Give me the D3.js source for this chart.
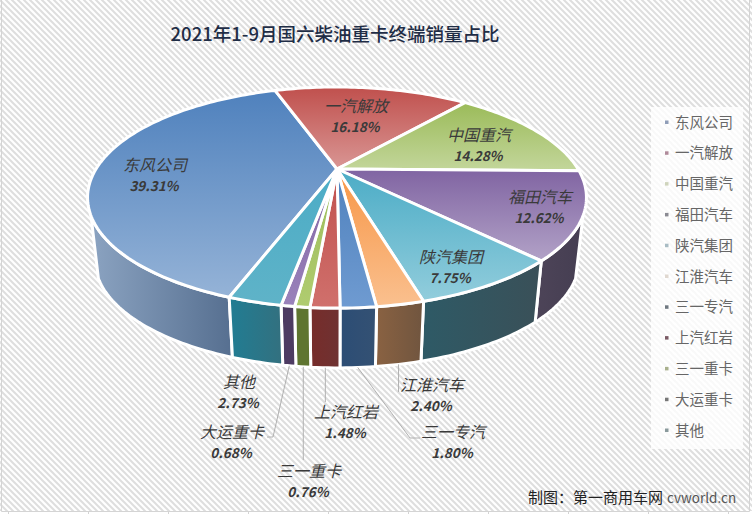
<!DOCTYPE html>
<html>
<head>
<meta charset="utf-8">
<script src="https://d3js.org/d3.v7.min.js"></script>
<style>
  html, body { margin: 0; padding: 0; background: #fff; }
  svg { display: block; }
  text { font-family: "Noto Sans CJK SC", "Liberation Sans", sans-serif; }
</style>
</head>
<body>
<div id="chart"></div>
<script>
var title = "2021年1-9月国六柴油重卡终端销量占比";
var creditCn = "制图：第一商用车网";
var creditEn = "cvworld.cn";
var brands = ["东风公司", "一汽解放", "中国重汽", "福田汽车", "陕汽集团", "江淮汽车", "三一专汽", "上汽红岩", "三一重卡", "大运重卡", "其他"];
var shares = [39.31, 16.18, 14.28, 12.62, 7.75, 2.40, 1.80, 1.48, 0.76, 0.68, 2.73];
var topColors = ["#4f81bd", "#c0504d", "#9bbb59", "#8064a2", "#4bacc6", "#f79646", "#4f81bd", "#c0504d", "#9bbb59", "#8064a2", "#4bacc6"];
var topLight = ["#95b3d7", "#d99694", "#c3d69b", "#b2a2c7", "#92cddc", "#fac08f", "#6f9bd1", "#d0706c", "#b0cc70", "#9a82bb", "#5fb3c8"];
var wallLight = ["#8ba3c1", "#8a3a38", "#6f8a38", "#4d4458", "#2e5a66", "#8a6242", "#2c4d75", "#772c2a", "#5f7530", "#4d3b62", "#217d93"];
var wallDark = ["#566f90", "#702f2d", "#5f7530", "#453e52", "#3a5058", "#70553f", "#345173", "#6e3232", "#5f7530", "#4d3b62", "#33707f"];
var legendColors = ["#8f9db8", "#b08a9a", "#cfd4bc", "#8a8a92", "#a9bcc4", "#e0d8d0", "#6f7880", "#7a5a64", "#a8b08c", "#777777", "#8a9a9c"];

var width = 752, height = 514;
var cx = 337, cy = 169;
var rimX = 241, rimY = 103.2, tilt = 0.258;
var wallDrop = 64, wallShrink = 0.97;
var firstAngle = 199.8 * Math.PI / 180;
var wallFrom = 114 * Math.PI / 180, wallTo = 246 * Math.PI / 180;

// perspective projection of a point on the pie disc
function project(angle, r, lower) {
    var u = Math.sin(angle) * r, v = Math.cos(angle) * r, w = 1 + tilt * v;
    var k = lower ? wallShrink : 1;
    return [cx + k * rimX * u / w, cy + (lower ? wallDrop : 0) - k * rimY * v / w];
}

function arcPoints(a0, a1, lower) {
    var n = Math.max(2, Math.ceil(Math.abs(a1 - a0) / 0.02));
    return d3.range(n + 1).map(function(i) {
        return project(a0 + (a1 - a0) * i / n, 1, lower);
    });
}

var pie = d3.pie().sort(null).startAngle(firstAngle).endAngle(firstAngle + 2 * Math.PI);
var slices = pie(shares);
var line = d3.line().curve(d3.curveLinear);

var svg = d3.select("#chart").append("svg").attr("width", width).attr("height", height);
var defs = svg.append("defs");

var hatch = defs.append("pattern").attr("id", "hatch").attr("patternUnits", "userSpaceOnUse")
    .attr("width", 6).attr("height", 6);
hatch.append("rect").attr("width", 6).attr("height", 6).attr("fill", "#fff");
hatch.append("path").attr("d", "M-1,-1 L7,7 M-1,5 L1,7 M5,-1 L7,1")
    .attr("stroke", "#dedede").attr("stroke-width", 2);

slices.forEach(function(d, i) {
    var g = defs.append("linearGradient").attr("id", "top" + i).attr("x1", 0).attr("y1", 0).attr("x2", 0).attr("y2", 1);
    g.append("stop").attr("offset", 0).attr("stop-color", topColors[i]);
    g.append("stop").attr("offset", 1).attr("stop-color", topLight[i]);
    var s = defs.append("linearGradient").attr("id", "wall" + i).attr("x1", 0).attr("y1", 0).attr("x2", 1).attr("y2", 0);
    s.append("stop").attr("offset", 0).attr("stop-color", wallLight[i]);
    s.append("stop").attr("offset", 1).attr("stop-color", wallDark[i]);
});

// page background and the cut-off frame along the bottom
svg.append("rect").attr("width", width).attr("height", 511).attr("fill", "url(#hatch)");
var frame = svg.append("g").attr("fill", "none").attr("stroke", "#d4d4d4");
frame.append("path").attr("d", "M1.5,0 V511.5 H749.5 V0");
d3.range(8, width, 80).forEach(function(x) {
    frame.append("path").attr("d", "M" + (x + 0.5) + ",511 V514");
});

svg.append("text").attr("x", 335).attr("y", 41).attr("text-anchor", "middle")
    .attr("font-size", 18.5).attr("font-weight", 500).attr("fill", "#1f2d46").text(title);

// walls
var walls = svg.append("g");
slices.forEach(function(d, i) {
    [0, 2 * Math.PI].forEach(function(turn) {
        var a0 = Math.max(d.startAngle - turn, wallFrom), a1 = Math.min(d.endAngle - turn, wallTo);
        if (a1 <= a0) return;
        var pts = arcPoints(a0, a1, false).concat(arcPoints(a1, a0, true));
        walls.append("path").attr("d", line(pts) + "Z")
            .attr("fill", "url(#wall" + i + ")").attr("stroke", "#fff").attr("stroke-width", 3)
            .attr("stroke-linejoin", "round");
    });
});

// top of the pie
var tops = svg.append("g");
slices.forEach(function(d, i) {
    var pts = [[cx, cy]].concat(arcPoints(d.startAngle, d.endAngle, false));
    tops.append("path").attr("d", line(pts) + "Z")
        .attr("fill", "url(#top" + i + ")").attr("stroke", "#fff").attr("stroke-width", 3)
        .attr("stroke-linejoin", "round");
});

// hand placed labels, same as in the original chart
var labelSpots = [[155, 171], [356, 112], [479, 141], [540, 203], [451, 263], [432, 391], [453, 438], [346, 418], [309, 477], [232, 438], [239, 388]];
// leader line: elbow and end of the line; a null x means straight down from the wall
var leaderBend = [null, null, null, null, null, [null, 392], [410, 438], [null, 402], [null, 460], [273, 437], null];
var leaderEnd = [null, null, null, null, null, null, [420, 438], null, null, [267, 437], null];
var labels = svg.append("g");
slices.forEach(function(d, i) {
    var mid = (d.startAngle + d.endAngle) / 2;
    if (leaderBend[i]) {
        var p = project(mid, 1, true);
        var pts = [p, [leaderBend[i][0] === null ? p[0] : leaderBend[i][0], leaderBend[i][1]]];
        if (leaderEnd[i]) pts.push(leaderEnd[i]);
        labels.append("path").attr("fill", "none").attr("stroke", "#b0b0b0").attr("d", line(pts));
    }
    labels.append("text").attr("x", labelSpots[i][0]).attr("y", labelSpots[i][1]).attr("text-anchor", "middle")
        .attr("font-size", 16).attr("font-style", "italic").attr("fill", "#3a3a3a").text(brands[i]);
    labels.append("text").attr("x", labelSpots[i][0] - 1).attr("y", labelSpots[i][1] + 20).attr("text-anchor", "middle")
        .attr("font-size", 13.5).attr("font-style", "italic").attr("font-weight", "bold").attr("fill", "#3a3a3a")
        .text(d3.format(".2f")(shares[i]) + "%");
});

// legend
var legendY = d3.scalePoint().domain(brands).range([122, 430]);
var legend = svg.append("g");
legend.append("rect").attr("x", 651).attr("y", 107).attr("width", 92).attr("height", 342).attr("fill", "#fff").attr("opacity", 0.8);
brands.forEach(function(b, i) {
    legend.append("rect").attr("x", 665).attr("y", legendY(b) - 1.5).attr("width", 3.5).attr("height", 3.5)
        .attr("fill", legendColors[i]);
    legend.append("text").attr("x", 675).attr("y", legendY(b) + 5.5).attr("font-size", 14.5)
        .attr("fill", "#666").text(b);
});

var credit = svg.append("text").attr("x", 528).attr("y", 503);
credit.append("tspan").attr("font-size", 15).attr("fill", "#222").text(creditCn);
credit.append("tspan").attr("dx", 4).attr("font-size", 13.5).attr("fill", "#555").text(creditEn);
</script>
</body>
</html>
